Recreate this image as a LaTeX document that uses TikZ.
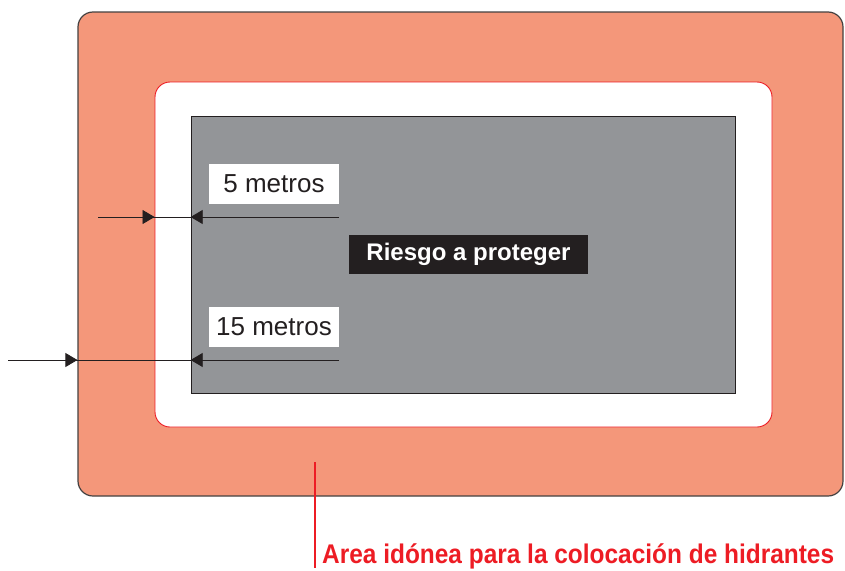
\documentclass[tikz,border=0pt]{standalone}
\usepackage{fontspec}
\setmainfont{Liberation Sans}
\newfontfamily\condfont[FakeStretch=0.905]{Liberation Sans}
\usetikzlibrary{arrows.meta}
\definecolor{salmon}{HTML}{F4977A}
\definecolor{hred}{HTML}{ED1C24}
\definecolor{riskgray}{HTML}{939598}
\definecolor{ink}{HTML}{231F20}
\tikzset{
  zonebox/.style={draw=ink!85, line width=1.2pt, fill=salmon, rounded corners=15pt, minimum width=765pt, minimum height=484pt, inner sep=0pt},
  ringbox/.style={draw=hred, line width=0.9pt, fill=white, rounded corners=15pt, minimum width=617pt, minimum height=345pt, inner sep=0pt},
  riskbox/.style={draw=ink, line width=0.7pt, fill=riskgray, minimum width=544pt, minimum height=277pt, inner sep=0pt},
  distlabel/.style={fill=white, text=ink, font=\fontsize{26}{30}\selectfont, minimum width=130pt, minimum height=40pt, inner sep=0pt},
  titlebox/.style={fill=ink, text=white, font=\fontsize{24}{28}\selectfont\bfseries, minimum width=239pt, minimum height=39pt, inner sep=0pt},
  dimline/.style={draw=ink, line width=0.8pt},
  dimarrow/.style={draw=ink, line width=0.8pt, -{Triangle[length=12pt,width=14pt]}},
  notetext/.style={text=hred, font=\fontsize{27}{31}\selectfont\condfont\bfseries, inner sep=0pt, anchor=base west},
}
\begin{document}
\begin{tikzpicture}[x=1pt,y=-1pt]
\useasboundingbox (0,0) rectangle (845,570);
\node[zonebox] (zone) at (460.5,254) {};
\node[ringbox] (ring) at (463.5,254.5) {};
\node[riskbox] (risk) at (463,254.5) {};
\node[distlabel] (five) at (274,184) {5 metros};
\node[distlabel] (fifteen) at (274,327) {15 metros};
\node[titlebox] (title) at (468.5,254.5) {Riesgo a proteger};
% 5 m dimension
\coordinate (a1s) at (98,217);
\coordinate (a1e) at (339,217);
\draw[dimline] (a1s) -- (a1e);
\draw[dimarrow] (a1s) -- (a1s -| ring.west);
\draw[dimarrow] (a1e) -- (a1e -| risk.west);
% 15 m dimension
\coordinate (a2s) at (8,360);
\coordinate (a2e) at (339,360);
\draw[dimline] (a2s) -- (a2e);
\draw[dimarrow] (a2s) -- (a2s -| zone.west);
\draw[dimarrow] (a2e) -- (a2e -| risk.west);
% note
\coordinate (ntop) at (315,462);
\coordinate (nbot) at (315,568);
\draw[draw=hred, line width=1.2pt] (ntop) -- (nbot);
\node[notetext] (note) at (322,563) {Area idónea para la colocación de hidrantes};
\end{tikzpicture}
\end{document}
